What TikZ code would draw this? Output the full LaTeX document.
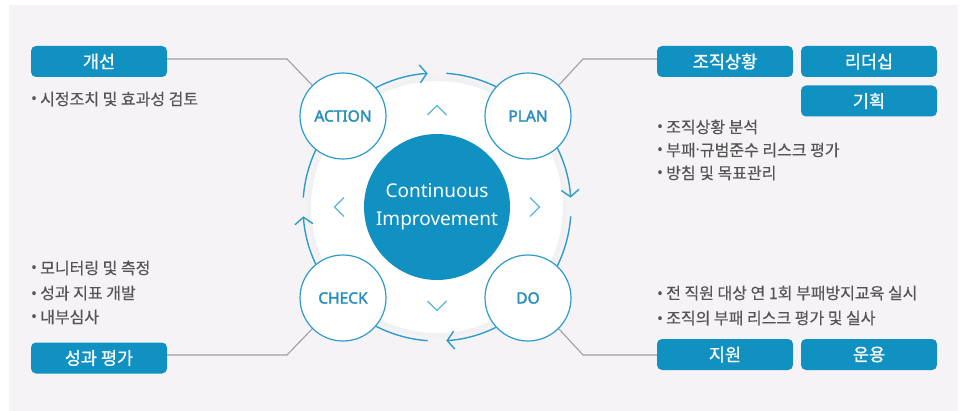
\documentclass[tikz,border=0pt]{standalone}
\usepackage{fontspec}
\setmainfont{Noto Sans CJK KR}
\newfontfamily\lat{Noto Sans}
\newfontfamily\latb{Noto Sans}[FakeBold=2.2]
\newfontfamily\krb{Noto Sans CJK KR}[FakeBold=0.9]
\newfontfamily\krt{Noto Sans CJK KR}[FakeBold=0.4]
\usetikzlibrary{arrows.meta}
\definecolor{bgc}{HTML}{F5F3F5}
\definecolor{boxc}{HTML}{1190C2}
\definecolor{ringc}{HTML}{2E9CCB}
\definecolor{chevc}{HTML}{5DB5DE}
\definecolor{connc}{HTML}{A0A0A0}
\definecolor{txtc}{HTML}{555555}
\definecolor{lblc}{HTML}{2A8FC0}
\definecolor{diskedge}{HTML}{F1F0F2}
\newcommand{\bl}{{\lat •}\hspace{3pt}}
\begin{document}
\begin{tikzpicture}[x=1pt,y=-1pt,
  tag/.style={fill=boxc, rounded corners=5pt, minimum width=136pt, minimum height=31pt,
    inner sep=0pt, text=white, font=\krb\fontsize{17.5}{19}\selectfont},
  bul/.style={anchor=base west, inner sep=0pt, text=txtc, font=\krt\fontsize{16}{18}\selectfont},
  phase/.style={circle, draw=ringc, line width=1.2pt, fill=white, minimum size=86pt,
    inner sep=0pt, text=lblc, font=\latb\fontsize{15.5}{17}\selectfont},
  ring/.style={draw=ringc, line width=1.4pt},
  arr/.style={ring, -{Straight Barb[length=7pt,width=18pt]}},
  chev/.style={draw=chevc, line width=1.2pt},
  conn/.style={draw=connc, line width=1.1pt}]
\useasboundingbox (0,0) rectangle (960,411);
\fill[bgc] (9,5) rectangle (958,411);
% white disk
\coordinate (C) at (437,207);
\fill[white, draw=diskedge, line width=4pt] (C) circle[radius=128];
% ring arcs
\draw[arr] (C) ++(-135:134) arc[start angle=-135, end angle=-94, radius=134];
\draw[ring] (C) ++(-86:134) arc[start angle=-86, end angle=-45, radius=134];
\draw[arr] (C) ++(-45:134) arc[start angle=-45, end angle=-4, radius=134];
\draw[ring] (C) ++(4:134) arc[start angle=4, end angle=45, radius=134];
\draw[arr] (C) ++(45:134) arc[start angle=45, end angle=86, radius=134];
\draw[ring] (C) ++(94:134) arc[start angle=94, end angle=135, radius=134];
\draw[arr] (C) ++(135:134) arc[start angle=135, end angle=176, radius=134];
\draw[ring] (C) ++(184:134) arc[start angle=184, end angle=225, radius=134];
% chevrons
\draw[chev] (427.5,115) -- (437,105.5) -- (446.5,115);
\draw[chev] (427.5,301) -- (437,310.5) -- (446.5,301);
\draw[chev] (344,197.5) -- (334.5,207) -- (344,216.5);
\draw[chev] (530,197.5) -- (539.5,207) -- (530,216.5);
% center
\node[circle, fill=boxc, minimum size=146pt, inner sep=0pt, text=white, align=center,
  font=\lat\fontsize{19}{28}\selectfont] (ci) at (C) {Continuous\\Improvement};
% phases
\node[phase] (act) at (343,116) {ACTION};
\node[phase] (plan) at (528,116) {PLAN};
\node[phase] (chk) at (343,298) {CHECK};
\node[phase] (do) at (528,298) {DO};
% tags
\node[tag] (gs) at (99,61.5) {개선};
\node[tag] (sp) at (99,358) {성과 평가};
\node[tag] (jj) at (725,61.5) {조직상황};
\node[tag] (ld) at (869,61.5) {리더십};
\node[tag] (gh) at (869,101) {기획};
\node[tag] (jw) at (725,354.5) {지원};
\node[tag] (uy) at (869,354.5) {운용};
% connectors
\coordinate (bA) at (287,59);
\coordinate (bP) at (583,59);
\coordinate (bC) at (287,355);
\coordinate (bD) at (583,355);
\draw[conn] (act.135) -- (bA) -- (bA -| gs.east);
\draw[conn] (plan.45) -- (bP) -- (bP -| jj.west);
\draw[conn] (chk.225) -- (bC) -- (bC -| sp.east);
\draw[conn] (do.-45) -- (bD) -- (bD -| jw.west);
% bullet texts
\node[bul] (t1) at (31,105) {\bl 시정조치 및 효과성 검토};
\node[bul] (t2) at (657,133) {\bl 조직상황 분석};
\node[bul] (t3) at (657,156) {\bl 부패{\lat ·}규범준수 리스크 평가};
\node[bul] (t4) at (657,179) {\bl 방침 및 목표관리};
\node[bul] (t5) at (31,274) {\bl 모니터링 및 측정};
\node[bul] (t6) at (31,299) {\bl 성과 지표 개발};
\node[bul] (t7) at (31,323) {\bl 내부심사};
\node[bul] (t8) at (657,299) {\bl 전 직원 대상 연 1회 부패방지교육 실시};
\node[bul] (t9) at (657,324) {\bl 조직의 부패 리스크 평가 및 실사};
\end{tikzpicture}
\end{document}
